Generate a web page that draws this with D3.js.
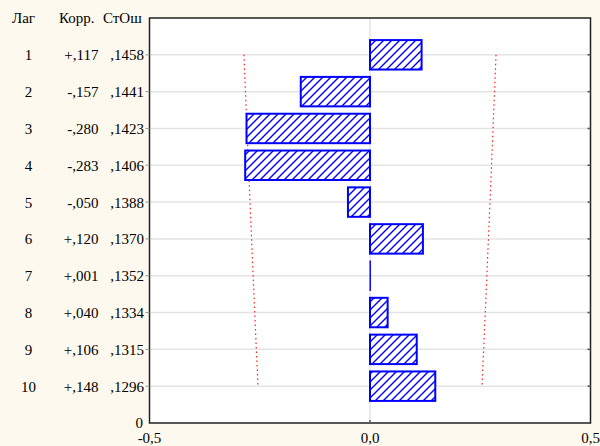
<!DOCTYPE html>
<html><head><meta charset="utf-8">
<script src="https://cdn.jsdelivr.net/npm/d3@7/dist/d3.min.js"></script>
<style>
html,body{margin:0;padding:0;background:#fdf9ee;}
svg{display:block;}
text{font-family:"Liberation Serif","Times New Roman",serif;font-size:15px;fill:#000;}
</style></head>
<body>
<svg id="c" width="600" height="446"></svg>
<script>
const lags = [1,2,3,4,5,6,7,8,9,10];
const corr = [0.117,-0.157,-0.280,-0.283,-0.050,0.120,0.001,0.040,0.106,0.148];
const corrLabels = ["+,117","-,157","-,280","-,283","-,050","+,120","+,001","+,040","+,106","+,148"];
const stdErr = [0.1458,0.1441,0.1423,0.1406,0.1388,0.1370,0.1352,0.1334,0.1315,0.1296];
const seLabels = [",1458",",1441",",1423",",1406",",1388",",1370",",1352",",1334",",1315",",1296"];
const xTicks = [-0.5,0,0.5];
const xTickLabels = ["-0,5","0,0","0,5"];
const headers = ["Лаг","Корр.","СтОш"];

const svg = d3.select("#c");
const L=149.5, R=590.5, T=18, B=423;
const x = d3.scaleLinear().domain([-0.5,0.5]).range([L,R]);
const y = d3.scaleLinear().domain([0,11]).range([B,T]);
const yl = d => y(11-d);
const barH = (y(0)-y(1))*0.8;

// hatch
const defs = svg.append("defs");
const pat = defs.append("pattern").attr("id","hatch").attr("patternUnits","userSpaceOnUse")
  .attr("width",8).attr("height",8);
pat.append("rect").attr("width",8).attr("height",8).attr("fill","#fff");
pat.append("path").attr("d","M-2,2 L2,-2 M0,8 L8,0 M6,10 L10,6")
  .attr("stroke","#0000ff").attr("stroke-width",1.4);

// plot bg
svg.append("rect").attr("x",L).attr("y",T).attr("width",R-L).attr("height",B-T).attr("fill","#fff");

// gridlines
svg.append("g").selectAll("line").data(lags).join("line")
  .attr("x1",L).attr("x2",R).attr("y1",d=>yl(d)).attr("y2",d=>yl(d))
  .attr("stroke","#e4e4e4").attr("stroke-width",1.5);
svg.append("line").attr("x1",x(0)).attr("x2",x(0)).attr("y1",T).attr("y2",B)
  .attr("stroke","#e4e4e4").attr("stroke-width",1.5);

// confidence limits
const lineGen = d3.line().x(d=>d[0]).y(d=>d[1]);
[1,-1].forEach(s=>{
  const pts = lags.map((d,i)=>[x(s*1.96*stdErr[i]), yl(d)]);
  svg.append("path").attr("d",lineGen(pts)).attr("fill","none")
    .attr("stroke","#ff2020").attr("stroke-width",1.2).attr("stroke-dasharray","1.5,3");
});

// bars
const data = lags.map((d,i)=>({lag:d,c:corr[i]}));
svg.append("g").selectAll("rect").data(data).join("rect")
  .attr("x",d=>Math.min(x(0),x(d.c)))
  .attr("y",d=>yl(d.lag)-barH/2)
  .attr("width",d=>Math.abs(x(d.c)-x(0)))
  .attr("height",barH)
  .attr("fill","url(#hatch)")
  .attr("stroke","#0000ff").attr("stroke-width",d=>Math.abs(x(d.c)-x(0))<2?1:2);

// frame
svg.append("rect").attr("x",L).attr("y",T).attr("width",R-L).attr("height",B-T)
  .attr("fill","none").attr("stroke","#222").attr("stroke-width",1.5);

// ticks
svg.append("g").selectAll("line").data(lags).join("line")
  .attr("x1",L-4).attr("x2",L).attr("y1",d=>yl(d)).attr("y2",d=>yl(d))
  .attr("stroke","#999").attr("stroke-width",1);
svg.append("g").selectAll("line").data(lags).join("line")
  .attr("x1",R-3).attr("x2",R).attr("y1",d=>yl(d)).attr("y2",d=>yl(d))
  .attr("stroke","#555").attr("stroke-width",1.5);
svg.append("line").attr("x1",x(0)).attr("x2",x(0)).attr("y1",B-3).attr("y2",B)
  .attr("stroke","#555").attr("stroke-width",1.5);

// x axis labels
svg.append("g").selectAll("text").data(xTicks).join("text")
  .attr("x",d=>x(d)).attr("y",443).attr("text-anchor","middle")
  .text((d,i)=>xTickLabels[i]);
svg.append("text").attr("x",143).attr("y",428).attr("text-anchor","end").text("0");

// headers
svg.append("text").attr("x",12).attr("y",23).text(headers[0]);
svg.append("text").attr("x",59).attr("y",23).text(headers[1]);
svg.append("text").attr("x",103).attr("y",23).text(headers[2]);

// row labels
svg.append("g").selectAll("text").data(lags).join("text")
  .attr("x",28.5).attr("y",d=>yl(d)+5.5).attr("text-anchor","middle").text(d=>d);
svg.append("g").selectAll("text").data(lags).join("text")
  .attr("x",98.5).attr("y",d=>yl(d)+5.5).attr("text-anchor","end").text((d,i)=>corrLabels[i]);
svg.append("g").selectAll("text").data(lags).join("text")
  .attr("x",144).attr("y",d=>yl(d)+5.5).attr("text-anchor","end").text((d,i)=>seLabels[i]);
</script>
</body></html>
